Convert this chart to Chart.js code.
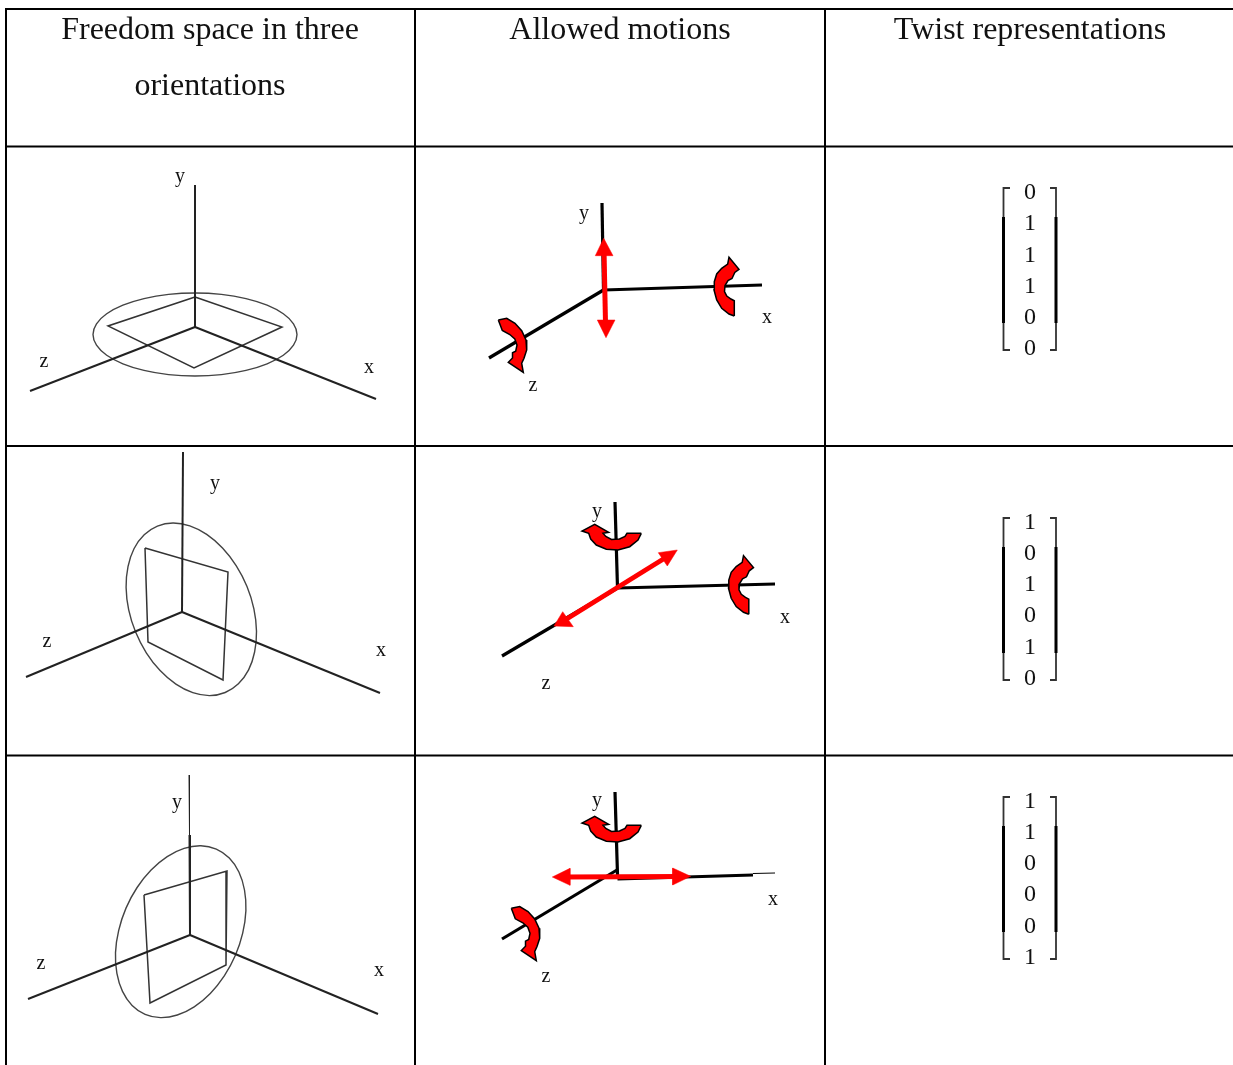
<!DOCTYPE html>
<html>
<head>
<meta charset="utf-8">
<title>Freedom space and twists</title>
<script src="https://cdn.jsdelivr.net/npm/chart.js@4"></script>
<style>
  html, body { margin: 0; padding: 0; background: #fff; }
  canvas { display: block; }
</style>
</head>
<body>
<canvas id="table" width="1233" height="1065"></canvas>
<script>
// table rules
const ruleColumns = [6, 415, 825];
const ruleRows = [9, 146.5, 446, 755.5];

// texts
const headerTexts = ['Freedom space in three', 'orientations', 'Allowed motions', 'Twist representations'];
const headerX = [210, 210, 620, 1030];
const headerY = [31, 87, 31, 31];
const axisNames = ['y', 'z', 'x'];
const leftNameSpots = [[[180, 177], [44, 362], [369, 368]], [[215, 484], [47, 642], [381, 651]], [[177, 803], [41, 964], [379, 971]]];
const midNameSpots = [[[584, 214], [533, 386], [767, 318]], [[597, 512], [546, 684], [785, 618]], [[597, 801], [546, 977], [773, 900]]];

// twist vectors
const twistA = [0, 1, 1, 1, 0, 0];
const twistB = [1, 0, 1, 0, 1, 0];
const twistC = [1, 1, 0, 0, 0, 1];
const twistRowsA = [193, 224, 255.5, 287, 318, 349];
const twistRowsB = [523, 554, 585, 616, 648, 679];
const twistRowsC = [802, 833, 864, 895, 927, 958];
const bracketTops = [188, 518, 797];

// freedom space sketches, left column
const leftAxesA = [[[195, 185], [195, 327]], [[30, 391], [195, 327]], [[376, 399], [195, 327]]];
const leftAxesB = [[[183, 452], [182, 612]], [[26, 677], [182, 612]], [[380, 693], [182, 612]]];
const leftAxesC = [[[189.5, 835], [190, 935]], [[28, 999], [190, 935]], [[378, 1014], [190, 935]]];
const leftThinY = [[189, 775], [189.5, 835]];
const squareA = [[195, 297], [282, 327], [194, 368], [108, 326], [195, 297]];
const squareB = [[145, 548], [228, 572], [223, 680], [148, 642], [145, 548]];
const squareC = [[144, 895], [227, 871], [226, 965], [150, 1003], [144, 895]];
const ringA = [[297, 334.5], [293.5, 345.2], [283.3, 355.3], [267.1, 363.8], [246, 370.4], [221.4, 374.6], [195, 376], [168.6, 374.6], [144, 370.4], [122.9, 363.8], [106.7, 355.3], [96.5, 345.2], [93, 334.5], [96.5, 323.8], [106.7, 313.8], [122.9, 305.2], [144, 298.6], [168.6, 294.4], [195, 293], [221.4, 294.4], [246, 298.6], [267.1, 305.2], [283.3, 313.8], [293.5, 323.8]];
const ringB = [[225.2, 692.5], [209.6, 695.6], [192.8, 692.7], [175.9, 684.2], [160.1, 670.6], [146.3, 652.8], [135.6, 632.1], [128.7, 609.8], [126.1, 587.4], [128, 566.6], [134, 548.7], [144.2, 534.8], [157.4, 526.1], [173, 523], [189.8, 525.9], [206.7, 534.4], [222.5, 548], [236.3, 565.8], [247, 586.5], [253.9, 608.8], [256.5, 631.2], [254.6, 652], [248.6, 669.9], [238.4, 683.8]];
const ringC = [[216.3, 849.1], [229.3, 858], [238.9, 872], [244.5, 890], [245.9, 910.8], [242.7, 933.1], [235.4, 955.3], [224.3, 975.9], [210.3, 993.4], [194.2, 1006.8], [177.3, 1015], [160.5, 1017.6], [145.1, 1014.3], [132.1, 1005.4], [122.5, 991.4], [116.9, 973.4], [115.5, 952.6], [118.7, 930.3], [126, 908.1], [137.1, 887.5], [151.1, 870], [167.2, 856.6], [184.1, 848.4], [200.9, 845.8]];

// allowed motion sketches, middle column
const midAxesA = [[[602, 203], [603.5, 290]], [[489, 358], [603.5, 290]], [[603.5, 290], [762, 285]]];
const midAxesB = [[[615, 502], [617.5, 588]], [[502, 656], [617.5, 588]], [[617.5, 588], [775, 584]]];
const midAxesC = [[[615, 792], [617.5, 875]], [[502, 939], [617, 870]], [[617.5, 879], [753, 875]]];
const midThinX = [[753, 873.5], [775, 873]];

const shaftA = [[604, 250], [605.5, 323]];
const headsA = [[[603.7, 238.3], [613, 255.7], [595.3, 255.7], [603.7, 238.3]], [[606, 337.7], [597.3, 320], [615, 320], [606, 337.7]]];
const shaftB = [[665, 558], [565, 620]];
const headsB = [[[677.3, 550], [667.3, 566], [658.3, 552.7], [677.3, 550]], [[554, 626], [562.7, 611.7], [573.3, 626.7], [554, 626]]];
const shaftC = [[565, 877], [680, 876.5]];
const headsC = [[[552.3, 877], [570, 868.3], [570, 885.3], [552.3, 877]], [[690.7, 876.3], [672.7, 868], [672.7, 885], [690.7, 876.3]]];

// curved red arrows: around x, z and y
const turnX = [[734.3, 316], [729, 314], [721.7, 308.3], [716.7, 300], [714, 290], [714.3, 281.7], [716.7, 274], [721.7, 268.3], [727.7, 264], [729, 257.3], [739, 269.3], [734.8, 272.5], [732, 278.5], [728, 280.5], [725, 285.5], [724.5, 291.5], [726.8, 296], [731, 299], [734.3, 300.8], [734.3, 316]];
const turnZ = [[498.3, 320], [506.7, 318.3], [515, 323.3], [521.7, 330.7], [526, 340], [526.7, 350], [524, 358.3], [521.7, 363.3], [523.3, 372.3], [508.3, 362.3], [512.5, 358], [512.5, 352.8], [515.7, 351.2], [517, 345], [514.8, 339], [509.8, 334.5], [502.3, 330.5], [498.3, 320]];
const turnY = [[641.3, 533.3], [638, 540], [629.7, 546.7], [618, 550], [606.3, 549.3], [596.3, 545], [590.7, 539], [588.7, 533.3], [582, 531], [594.7, 524.3], [608.7, 532.3], [603, 533.3], [605.8, 536.5], [611.5, 539.5], [619.5, 539], [625, 536.5], [627, 533.3], [641.3, 533.3]];
const turnPlaces = [[turnX, 0, 0], [turnZ, 0, 0], [turnX, 14.5, 298.3], [turnY, 0, 0], [turnZ, 13, 588.3], [turnY, 0, 292]];

const toXY = pts => pts.map(p => ({ x: p[0], y: p[1] }));

const datasets = [];
function addLine(pts, color, width) {
  datasets.push({ data: toXY(pts), showLine: true, borderColor: color, borderWidth: width, pointRadius: 0, fill: false, borderCapStyle: 'butt' });
}
function addShape(pts, border, width) {
  datasets.push({ data: toXY(pts), showLine: true, borderColor: border, borderWidth: width, backgroundColor: '#ff0000', pointRadius: 0, fill: 'shape', borderJoinStyle: 'miter' });
}
function addRing(pts) {
  // wrap round so the curve closes smoothly, the two extra end pieces stay invisible
  const n = pts.length;
  const loop = [pts[n - 1], ...pts, pts[0], pts[1]];
  const last = loop.length - 1;
  datasets.push({
    data: toXY(loop), showLine: true, borderColor: '#444', borderWidth: 1.4, tension: 0.4, pointRadius: 0, fill: false,
    segment: { borderColor: c => (c.p0DataIndex === 0 || c.p1DataIndex === last) ? 'transparent' : undefined }
  });
}

// rules
ruleColumns.forEach(x => addLine([[x, ruleRows[0] - 1], [x, 1065]], '#000', 2));
ruleRows.forEach(y => addLine([[ruleColumns[0], y], [1233, y]], '#000', 2));

// left column
[[ringA, squareA, leftAxesA], [ringB, squareB, leftAxesB], [ringC, squareC, leftAxesC]].forEach(group => {
  addRing(group[0]);
  addLine(group[1], '#333', 1.5);
  group[2].forEach(axis => addLine(axis, '#222', 2));
});
addLine(leftThinY, '#222', 1);

// middle column
[midAxesA, midAxesB, midAxesC].forEach(axes => axes.forEach(axis => addLine(axis, '#000', 3.2)));
addLine(midThinX, '#000', 1);
turnPlaces.forEach(place => {
  addShape(place[0].map(p => [p[0] + place[1], p[1] + place[2]]), '#000', 1.5);
});
[[shaftA, headsA], [shaftB, headsB], [shaftC, headsC]].forEach(group => {
  addLine(group[0], '#ff0000', 5);
  group[1].forEach(head => addShape(head, '#ff0000', 0.5));
});

// brackets round the twist vectors
bracketTops.forEach(top => {
  const bottom = top + 162;
  addLine([[1010, top], [1003.5, top], [1003.5, bottom], [1010, bottom]], '#333', 1.8);
  addLine([[1003.5, top + 29], [1003.5, bottom - 27]], '#000', 3);
  addLine([[1050, top], [1056, top], [1056, bottom], [1050, bottom]], '#333', 1.8);
  addLine([[1056, top + 29], [1056, bottom - 27]], '#000', 3);
});

// later datasets paint on top
datasets.forEach((d, i) => { d.order = datasets.length - i; });

const tableText = {
  id: 'tableText',
  afterDatasetsDraw(chart) {
    const { ctx, scales } = chart;
    const put = (text, x, y, font) => {
      ctx.font = font;
      ctx.fillText(text, scales.x.getPixelForValue(x), scales.y.getPixelForValue(y));
    };
    ctx.save();
    ctx.fillStyle = '#111';
    ctx.textAlign = 'center';
    ctx.textBaseline = 'middle';
    headerTexts.forEach((t, i) => put(t, headerX[i], headerY[i], '32px "Liberation Serif"'));
    [leftNameSpots, midNameSpots].forEach(col => col.forEach(spots => {
      spots.forEach((s, i) => put(axisNames[i], s[0], s[1], '20px "Liberation Serif"'));
    }));
    [[twistA, twistRowsA], [twistB, twistRowsB], [twistC, twistRowsC]].forEach(pair => {
      pair[0].forEach((v, i) => put(String(v), 1030, pair[1][i], '24px "Liberation Serif"'));
    });
    ctx.restore();
  }
};

new Chart(document.getElementById('table'), {
  type: 'scatter',
  data: { datasets },
  options: {
    responsive: false,
    animation: false,
    layout: { padding: 0 },
    plugins: { legend: { display: false }, tooltip: { enabled: false } },
    scales: {
      x: { type: 'linear', min: 0, max: 1233, display: false },
      y: { type: 'linear', min: 0, max: 1065, reverse: true, display: false }
    }
  },
  plugins: [tableText]
});
</script>
</body>
</html>
